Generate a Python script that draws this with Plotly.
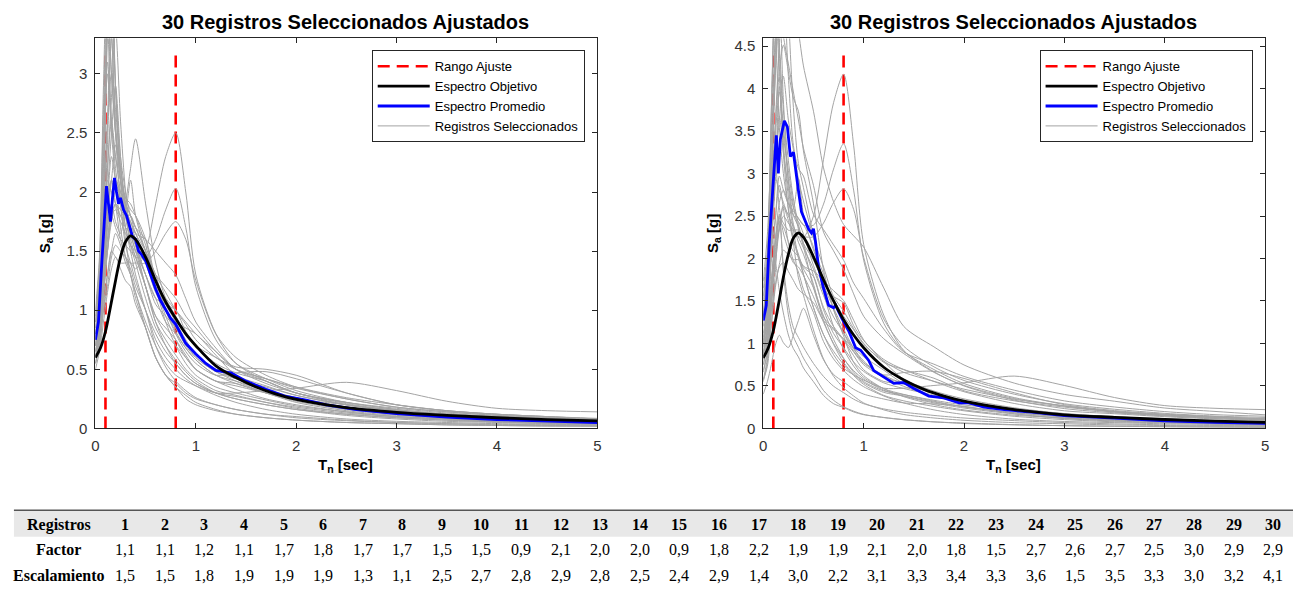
import plotly.graph_objects as go

W, H = 1297, 593

# ---------------- data ----------------
registros = list(range(1, 31))
factor = [1.1, 1.1, 1.2, 1.1, 1.7, 1.8, 1.7, 1.7, 1.5, 1.5, 0.9, 2.1, 2.0, 2.0, 0.9,
          1.8, 2.2, 1.9, 1.9, 2.1, 2.0, 1.8, 1.5, 2.7, 2.6, 2.7, 2.5, 3.0, 2.9, 2.9]
escalamiento = [1.5, 1.5, 1.8, 1.9, 1.9, 1.9, 1.3, 1.1, 2.5, 2.7, 2.8, 2.9, 2.8, 2.5, 2.4,
                2.9, 1.4, 3.0, 2.2, 3.1, 3.3, 3.4, 3.3, 3.6, 1.5, 3.5, 3.3, 3.0, 3.2, 4.1]

rango_ajuste = [0.1, 0.8]
rango_top_left = 3.2
rango_top_right = 4.45

# periods of the selected records
T_rec = [0, 0.04, 0.08, 0.12, 0.16, 0.2, 0.25, 0.3, 0.35, 0.4, 0.5, 0.6, 0.7, 0.8, 0.9,
         1.0, 1.2, 1.4, 1.7, 2.0, 2.5, 3.0, 3.5, 4.0, 4.5, 5.0]

# records as read on the left panel (Sa in g)
r01 = [0.55, 0.75, 1.2, 1.8, 2.1, 1.9, 1.6, 1.45, 1.35, 1.2, 1.0, 0.75, 0.6, 0.5, 0.42, 0.36, 0.28, 0.22, 0.16, 0.12, 0.08, 0.06, 0.05, 0.04, 0.035, 0.03]
r02 = [0.7, 1.0, 1.8, 3.4, 2.6, 2.2, 1.9, 1.6, 1.3, 1.15, 0.85, 0.6, 0.45, 0.35, 0.28, 0.22, 0.16, 0.12, 0.09, 0.07, 0.05, 0.04, 0.03, 0.025, 0.02, 0.02]
r03 = [0.9, 1.3, 2.3, 3.5, 3.0, 2.5, 2.1, 1.8, 1.6, 1.45, 1.2, 0.95, 0.8, 0.7, 0.6, 0.5, 0.4, 0.33, 0.25, 0.2, 0.14, 0.1, 0.08, 0.06, 0.05, 0.04]
r04 = [0.6, 0.85, 1.3, 1.8, 2.1, 2.4, 2.1, 1.9, 1.7, 1.55, 1.3, 1.1, 0.9, 0.8, 0.68, 0.58, 0.45, 0.4, 0.32, 0.25, 0.17, 0.12, 0.1, 0.08, 0.065, 0.055]
r05 = [0.8, 1.1, 1.9, 2.6, 3.6, 2.9, 2.3, 2.0, 1.8, 1.7, 1.6, 1.25, 1.0, 0.85, 0.7, 0.6, 0.48, 0.42, 0.35, 0.28, 0.2, 0.15, 0.11, 0.09, 0.07, 0.06]
r06 = [0.65, 0.85, 1.3, 1.6, 1.8, 1.85, 1.75, 1.65, 1.55, 1.5, 1.4, 1.2, 1.1, 1.0, 0.9, 0.8, 0.65, 0.5, 0.4, 0.3, 0.22, 0.16, 0.12, 0.1, 0.08, 0.07]
r07 = [0.75, 0.95, 1.6, 2.4, 3.3, 2.5, 1.9, 1.55, 1.4, 1.25, 1.0, 0.8, 0.65, 0.55, 0.45, 0.38, 0.3, 0.25, 0.2, 0.16, 0.12, 0.09, 0.07, 0.055, 0.045, 0.04]
r08 = [0.85, 1.2, 2.2, 3.0, 2.5, 2.1, 1.7, 1.45, 1.3, 1.1, 0.85, 0.6, 0.45, 0.38, 0.3, 0.25, 0.2, 0.16, 0.12, 0.09, 0.065, 0.05, 0.04, 0.03, 0.025, 0.02]
r09 = [0.6, 0.75, 1.05, 1.3, 1.5, 1.45, 1.4, 1.4, 1.4, 1.35, 1.5, 1.9, 2.3, 2.5, 2.0, 1.3, 0.8, 0.55, 0.4, 0.3, 0.2, 0.14, 0.11, 0.09, 0.07, 0.06]
r10 = [0.7, 0.9, 1.4, 2.0, 2.5, 2.9, 2.3, 1.85, 1.7, 1.65, 1.4, 1.3, 1.2, 1.1, 0.95, 0.85, 0.65, 0.5, 0.42, 0.34, 0.25, 0.18, 0.14, 0.11, 0.09, 0.08]
r11 = [0.5, 0.65, 0.9, 1.15, 1.35, 1.45, 1.35, 1.25, 1.2, 1.05, 0.85, 0.6, 0.45, 0.35, 0.25, 0.2, 0.15, 0.12, 0.09, 0.07, 0.05, 0.04, 0.03, 0.025, 0.02, 0.02]
r12 = [0.95, 1.4, 2.7, 3.7, 3.0, 2.5, 2.2, 1.9, 1.7, 1.55, 1.2, 0.95, 0.85, 0.75, 0.62, 0.5, 0.4, 0.38, 0.3, 0.22, 0.15, 0.11, 0.09, 0.07, 0.06, 0.05]
r13 = [0.8, 1.05, 1.6, 2.1, 2.0, 1.9, 1.8, 1.85, 2.1, 1.8, 1.5, 1.3, 1.0, 0.8, 0.65, 0.55, 0.45, 0.47, 0.48, 0.42, 0.3, 0.2, 0.15, 0.12, 0.1, 0.08]
r14 = [0.6, 0.8, 1.15, 1.6, 1.9, 2.1, 2.0, 1.9, 1.8, 1.7, 1.5, 1.25, 1.05, 0.9, 0.75, 0.62, 0.5, 0.42, 0.33, 0.26, 0.18, 0.14, 0.11, 0.09, 0.075, 0.065]
r15 = [0.65, 0.85, 1.25, 1.7, 1.9, 2.0, 1.95, 1.85, 1.75, 1.6, 1.4, 1.15, 1.0, 0.9, 0.85, 0.8, 0.62, 0.45, 0.36, 0.28, 0.2, 0.15, 0.12, 0.09, 0.075, 0.06]
r16 = [0.55, 0.7, 1.0, 1.2, 1.45, 1.55, 1.5, 1.45, 1.4, 1.4, 1.4, 1.5, 1.65, 1.75, 1.6, 1.25, 0.8, 0.6, 0.45, 0.35, 0.25, 0.18, 0.14, 0.11, 0.09, 0.08]
r17 = [0.9, 1.3, 2.5, 3.5, 3.9, 2.9, 2.1, 1.7, 1.5, 1.3, 1.0, 0.7, 0.52, 0.4, 0.32, 0.26, 0.2, 0.16, 0.12, 0.1, 0.07, 0.05, 0.04, 0.035, 0.03, 0.025]
r18 = [0.55, 0.7, 1.0, 1.3, 1.5, 1.65, 1.55, 1.4, 1.3, 1.15, 0.9, 0.7, 0.55, 0.45, 0.4, 0.36, 0.3, 0.3, 0.32, 0.34, 0.39, 0.32, 0.23, 0.17, 0.15, 0.14]
r19 = [0.7, 0.9, 1.3, 1.8, 2.1, 2.05, 1.9, 1.8, 1.75, 1.65, 1.6, 1.5, 1.4, 1.3, 1.1, 0.9, 0.68, 0.5, 0.38, 0.3, 0.21, 0.15, 0.12, 0.09, 0.075, 0.065]
r20 = [0.6, 0.8, 1.15, 1.5, 1.8, 1.9, 1.8, 1.7, 1.65, 1.55, 1.3, 1.1, 1.05, 1.0, 0.82, 0.7, 0.55, 0.47, 0.4, 0.3, 0.22, 0.17, 0.13, 0.1, 0.085, 0.07]
r21 = [0.65, 0.85, 1.25, 1.5, 1.8, 1.7, 1.6, 1.55, 1.5, 1.45, 1.45, 1.6, 1.85, 2.03, 1.7, 1.2, 0.75, 0.55, 0.42, 0.32, 0.22, 0.16, 0.12, 0.1, 0.08, 0.07]
r22 = [0.8, 1.05, 1.6, 2.2, 2.8, 3.4, 2.6, 2.0, 1.65, 1.5, 1.2, 0.9, 0.75, 0.62, 0.5, 0.42, 0.32, 0.28, 0.22, 0.17, 0.12, 0.09, 0.07, 0.055, 0.045, 0.04]
r23 = [0.75, 0.95, 1.4, 1.9, 2.3, 2.1, 1.95, 1.8, 1.65, 1.5, 1.3, 1.05, 0.95, 0.85, 0.72, 0.6, 0.48, 0.4, 0.3, 0.23, 0.16, 0.12, 0.09, 0.07, 0.06, 0.05]
r24 = [0.9, 1.2, 2.0, 3.3, 3.8, 2.9, 2.2, 1.95, 1.85, 1.8, 1.6, 1.2, 0.9, 0.7, 0.55, 0.45, 0.35, 0.3, 0.24, 0.19, 0.14, 0.1, 0.08, 0.06, 0.05, 0.045]
r25 = [0.7, 0.95, 1.3, 1.7, 1.9, 1.75, 1.65, 1.9, 2.2, 2.45, 1.9, 1.4, 1.1, 0.95, 0.8, 0.7, 0.6, 0.52, 0.5, 0.45, 0.3, 0.2, 0.15, 0.12, 0.1, 0.085]
r26 = [1.0, 1.45, 2.9, 4.0, 3.4, 2.6, 2.1, 1.8, 1.55, 1.4, 1.1, 0.85, 0.7, 0.58, 0.48, 0.4, 0.3, 0.25, 0.2, 0.16, 0.11, 0.08, 0.06, 0.05, 0.04, 0.035]
r27 = [0.75, 1.0, 1.7, 2.6, 3.0, 2.7, 2.2, 1.9, 1.8, 1.65, 1.5, 1.3, 1.15, 1.0, 0.88, 0.75, 0.6, 0.5, 0.42, 0.35, 0.26, 0.2, 0.15, 0.12, 0.1, 0.08]
r28 = [0.85, 1.15, 2.0, 3.1, 2.6, 2.3, 2.1, 1.95, 1.9, 1.8, 1.55, 1.25, 1.0, 0.82, 0.68, 0.58, 0.45, 0.38, 0.3, 0.24, 0.17, 0.12, 0.1, 0.08, 0.065, 0.055]
r29 = [0.6, 0.8, 1.1, 1.5, 1.75, 1.9, 1.85, 1.8, 1.8, 1.7, 1.5, 1.2, 0.95, 0.75, 0.6, 0.5, 0.4, 0.36, 0.3, 0.25, 0.2, 0.15, 0.11, 0.09, 0.07, 0.06]
r30 = [0.7, 0.95, 1.5, 2.2, 2.6, 2.3, 2.0, 1.7, 1.55, 1.45, 1.2, 0.9, 0.7, 0.55, 0.45, 0.38, 0.3, 0.27, 0.22, 0.18, 0.13, 0.1, 0.08, 0.06, 0.05, 0.04]

records = [r01, r02, r03, r04, r05, r06, r07, r08, r09, r10, r11, r12, r13, r14, r15,
           r16, r17, r18, r19, r20, r21, r22, r23, r24, r25, r26, r27, r28, r29, r30]

# target (objective) spectrum
T_obj = [0, 0.05, 0.1, 0.15, 0.2, 0.25, 0.3, 0.35, 0.4, 0.5, 0.6, 0.7, 0.8, 0.9, 1.0,
         1.2, 1.4, 1.6, 1.8, 2.0, 2.5, 3.0, 3.5, 4.0, 4.5, 5.0]
obj_left = [0.60, 0.68, 0.82, 1.03, 1.25, 1.45, 1.58, 1.63, 1.60, 1.45, 1.25, 1.07, 0.93,
            0.80, 0.70, 0.53, 0.43, 0.35, 0.29, 0.245, 0.175, 0.135, 0.11, 0.09, 0.075, 0.063]
obj_right = [0.83, 0.95, 1.15, 1.45, 1.78, 2.05, 2.24, 2.30, 2.25, 2.02, 1.75, 1.50, 1.28,
             1.10, 0.95, 0.72, 0.57, 0.46, 0.38, 0.32, 0.22, 0.16, 0.13, 0.105, 0.085, 0.07]

# average spectrum
T_avg_left = [0, 0.03, 0.06, 0.09, 0.11, 0.13, 0.15, 0.17, 0.19, 0.21, 0.23, 0.25, 0.28,
              0.31, 0.34, 0.37, 0.40, 0.43, 0.46, 0.50, 0.55, 0.60, 0.65, 0.70, 0.75, 0.80,
              0.85, 0.90, 1.0, 1.1, 1.2, 1.35, 1.5, 1.7, 1.9, 2.1, 2.3, 2.6, 3.0, 3.5, 4.0,
              4.5, 5.0]
avg_left = [0.75, 0.9, 1.35, 1.75, 2.05, 1.9, 1.75, 1.95, 2.12, 2.0, 1.9, 1.95, 1.85, 1.8,
            1.72, 1.62, 1.6, 1.5, 1.47, 1.42, 1.3, 1.18, 1.08, 1.0, 0.93, 0.88, 0.8, 0.72,
            0.63, 0.55, 0.49, 0.47, 0.4, 0.33, 0.27, 0.24, 0.2, 0.16, 0.125, 0.095, 0.075,
            0.06, 0.05]
T_avg_right = [0, 0.03, 0.06, 0.1, 0.13, 0.15, 0.17, 0.21, 0.24, 0.27, 0.3, 0.35, 0.38,
               0.45, 0.48, 0.5, 0.52, 0.55, 0.6, 0.65, 0.7, 0.72, 0.78, 0.85, 0.92, 0.97,
               1.05, 1.1, 1.2, 1.3, 1.4, 1.5, 1.65, 1.8, 1.95, 2.05, 2.2, 2.4, 2.7, 3.0,
               3.5, 4.0, 4.5, 5.0]
avg_right = [1.27, 1.45, 2.2, 3.0, 3.45, 3.0, 3.4, 3.62, 3.55, 3.2, 3.25, 2.8, 2.55, 2.35,
             2.3, 2.35, 2.2, 1.9, 1.65, 1.45, 1.42, 1.45, 1.3, 1.15, 0.95, 0.92, 0.8, 0.68,
             0.6, 0.53, 0.54, 0.47, 0.38, 0.36, 0.3, 0.3, 0.25, 0.22, 0.19, 0.15, 0.12,
             0.09, 0.07, 0.06]

# ---------------- figure ----------------
AX = "#262626"
FONT = "Liberation Sans, Arial, sans-serif"
SERIF = "Liberation Serif, Times New Roman, serif"

fig = go.Figure()


def add_panel(xa, ya, leg, obj, T_avg, avg, top, scale):
    xs, ys = [], []
    for t in rango_ajuste:
        xs += [t, t, None]
        ys += [0, top, None]
    fig.add_trace(go.Scatter(x=xs, y=ys, mode="lines", name="Rango Ajuste",
                             line=dict(color="#ff0000", width=2.6, dash="12px,7px"),
                             xaxis=xa, yaxis=ya, legend=leg, legendrank=1))
    for i, rec in enumerate(records):
        vals = [v * scale[i] for v in rec]
        fig.add_trace(go.Scatter(x=T_rec, y=vals, mode="lines", name="Registros Seleccionados",
                                 line=dict(color="#a4a4a4", width=1, shape="spline", smoothing=0.8),
                                 xaxis=xa, yaxis=ya, legend=leg, legendgroup="reg" + leg,
                                 showlegend=(i == 0), legendrank=4))
    fig.add_trace(go.Scatter(x=T_avg, y=avg, mode="lines", name="Espectro Promedio",
                             line=dict(color="#0000ff", width=2.8),
                             xaxis=xa, yaxis=ya, legend=leg, legendrank=3))
    fig.add_trace(go.Scatter(x=T_obj, y=obj, mode="lines", name="Espectro Objetivo",
                             line=dict(color="#000000", width=2.8, shape="spline", smoothing=1.0),
                             xaxis=xa, yaxis=ya, legend=leg, legendrank=2))


scale_left = [1.0] * 30
scale_right = [e / f for e, f in zip(escalamiento, factor)]
add_panel("x", "y", "legend", obj_left, T_avg_left, avg_left, rango_top_left, scale_left)
add_panel("x2", "y2", "legend2", obj_right, T_avg_right, avg_right, rango_top_right, scale_right)


def px(x):
    return x / W


def py(y):
    return 1 - y / H


axis_common = dict(showgrid=False, zeroline=False, showline=True, linecolor=AX, linewidth=1,
                   mirror="ticks", ticks="inside", ticklen=5, tickcolor=AX, tickwidth=1,
                   ticklabelstandoff=4,
                   tickfont=dict(family=FONT, size=15, color="#333333"))

ydom = [py(434), py(38)]
legend_common = dict(xanchor="left", yanchor="top", bgcolor="white",
                     bordercolor=AX, borderwidth=1, font=dict(family=FONT, size=13, color="#000"),
                     tracegroupgap=0, itemwidth=52)
fig.update_layout(
    width=W, height=H, margin=dict(l=0, r=0, t=0, b=0),
    paper_bgcolor="white", plot_bgcolor="white",
    xaxis=dict(domain=[px(92), px(597)], range=[0, 5], dtick=1, anchor="y", **axis_common),
    yaxis=dict(domain=ydom, range=[0, 3.3], dtick=0.5, anchor="x", **axis_common),
    xaxis2=dict(domain=[px(764), px(1269)], range=[0, 5], dtick=1, anchor="y2", **axis_common),
    yaxis2=dict(domain=ydom, range=[0, 4.59], dtick=0.5, anchor="x2", **axis_common),
    legend=dict(x=px(370), y=py(50), **legend_common),
    legend2=dict(x=px(1042), y=py(50), **legend_common),
    showlegend=True,
)

ann = []
for cx in (344, 1016):
    ann.append(dict(x=px(cx), y=py(21), xref="paper", yref="paper", showarrow=False,
                    xanchor="center", yanchor="middle",
                    text="<b>30 Registros Seleccionados Ajustados</b>",
                    font=dict(family=FONT, size=20, color="#000")))
    ann.append(dict(x=px(cx), y=py(472), xref="paper", yref="paper", showarrow=False,
                    xanchor="center", yanchor="middle",
                    text="<b>T<sub>n</sub> [sec]</b>", font=dict(family=FONT, size=15, color="#000")))
for cx in (42, 714):
    ann.append(dict(x=px(cx), y=py(236), xref="paper", yref="paper", showarrow=False,
                    xanchor="center", yanchor="middle",
                    text="<b>S<sub>a</sub> [g]</b>", textangle=-90,
                    font=dict(family=FONT, size=15, color="#000")))

# table
col0 = 122
step = (1277 - 122) / 29
row_y = [532, 557, 583]
labels = ["Registros", "Factor", "Escalamiento"]
TFONT = dict(family=SERIF, size=16, color="#000")
for r, lab in enumerate(labels):
    ann.append(dict(x=px(55), y=py(row_y[r]), xref="paper", yref="paper", showarrow=False,
                    xanchor="center", yanchor="middle",
                    text="<b>" + lab + "</b>", font=TFONT))


def fmt(v):
    return ("%.1f" % v).replace(".", ",")


for i in range(30):
    cx = col0 + i * step
    for r, txt in enumerate(["<b>%d</b>" % registros[i], fmt(factor[i]), fmt(escalamiento[i])]):
        ann.append(dict(x=px(cx), y=py(row_y[r]), xref="paper", yref="paper", showarrow=False,
                        xanchor="center", yanchor="middle", text=txt, font=TFONT))

fig.update_layout(annotations=ann)
fig.add_shape(type="rect", xref="paper", yref="paper", x0=px(10), x1=1, y0=py(544), y1=py(517),
              fillcolor="#e8e8e8", line=dict(width=0), layer="below")
fig.add_shape(type="line", xref="paper", yref="paper", x0=px(10), x1=1, y0=py(517), y1=py(517),
              line=dict(color="#555555", width=1.5))

fig.write_html("out.html")
